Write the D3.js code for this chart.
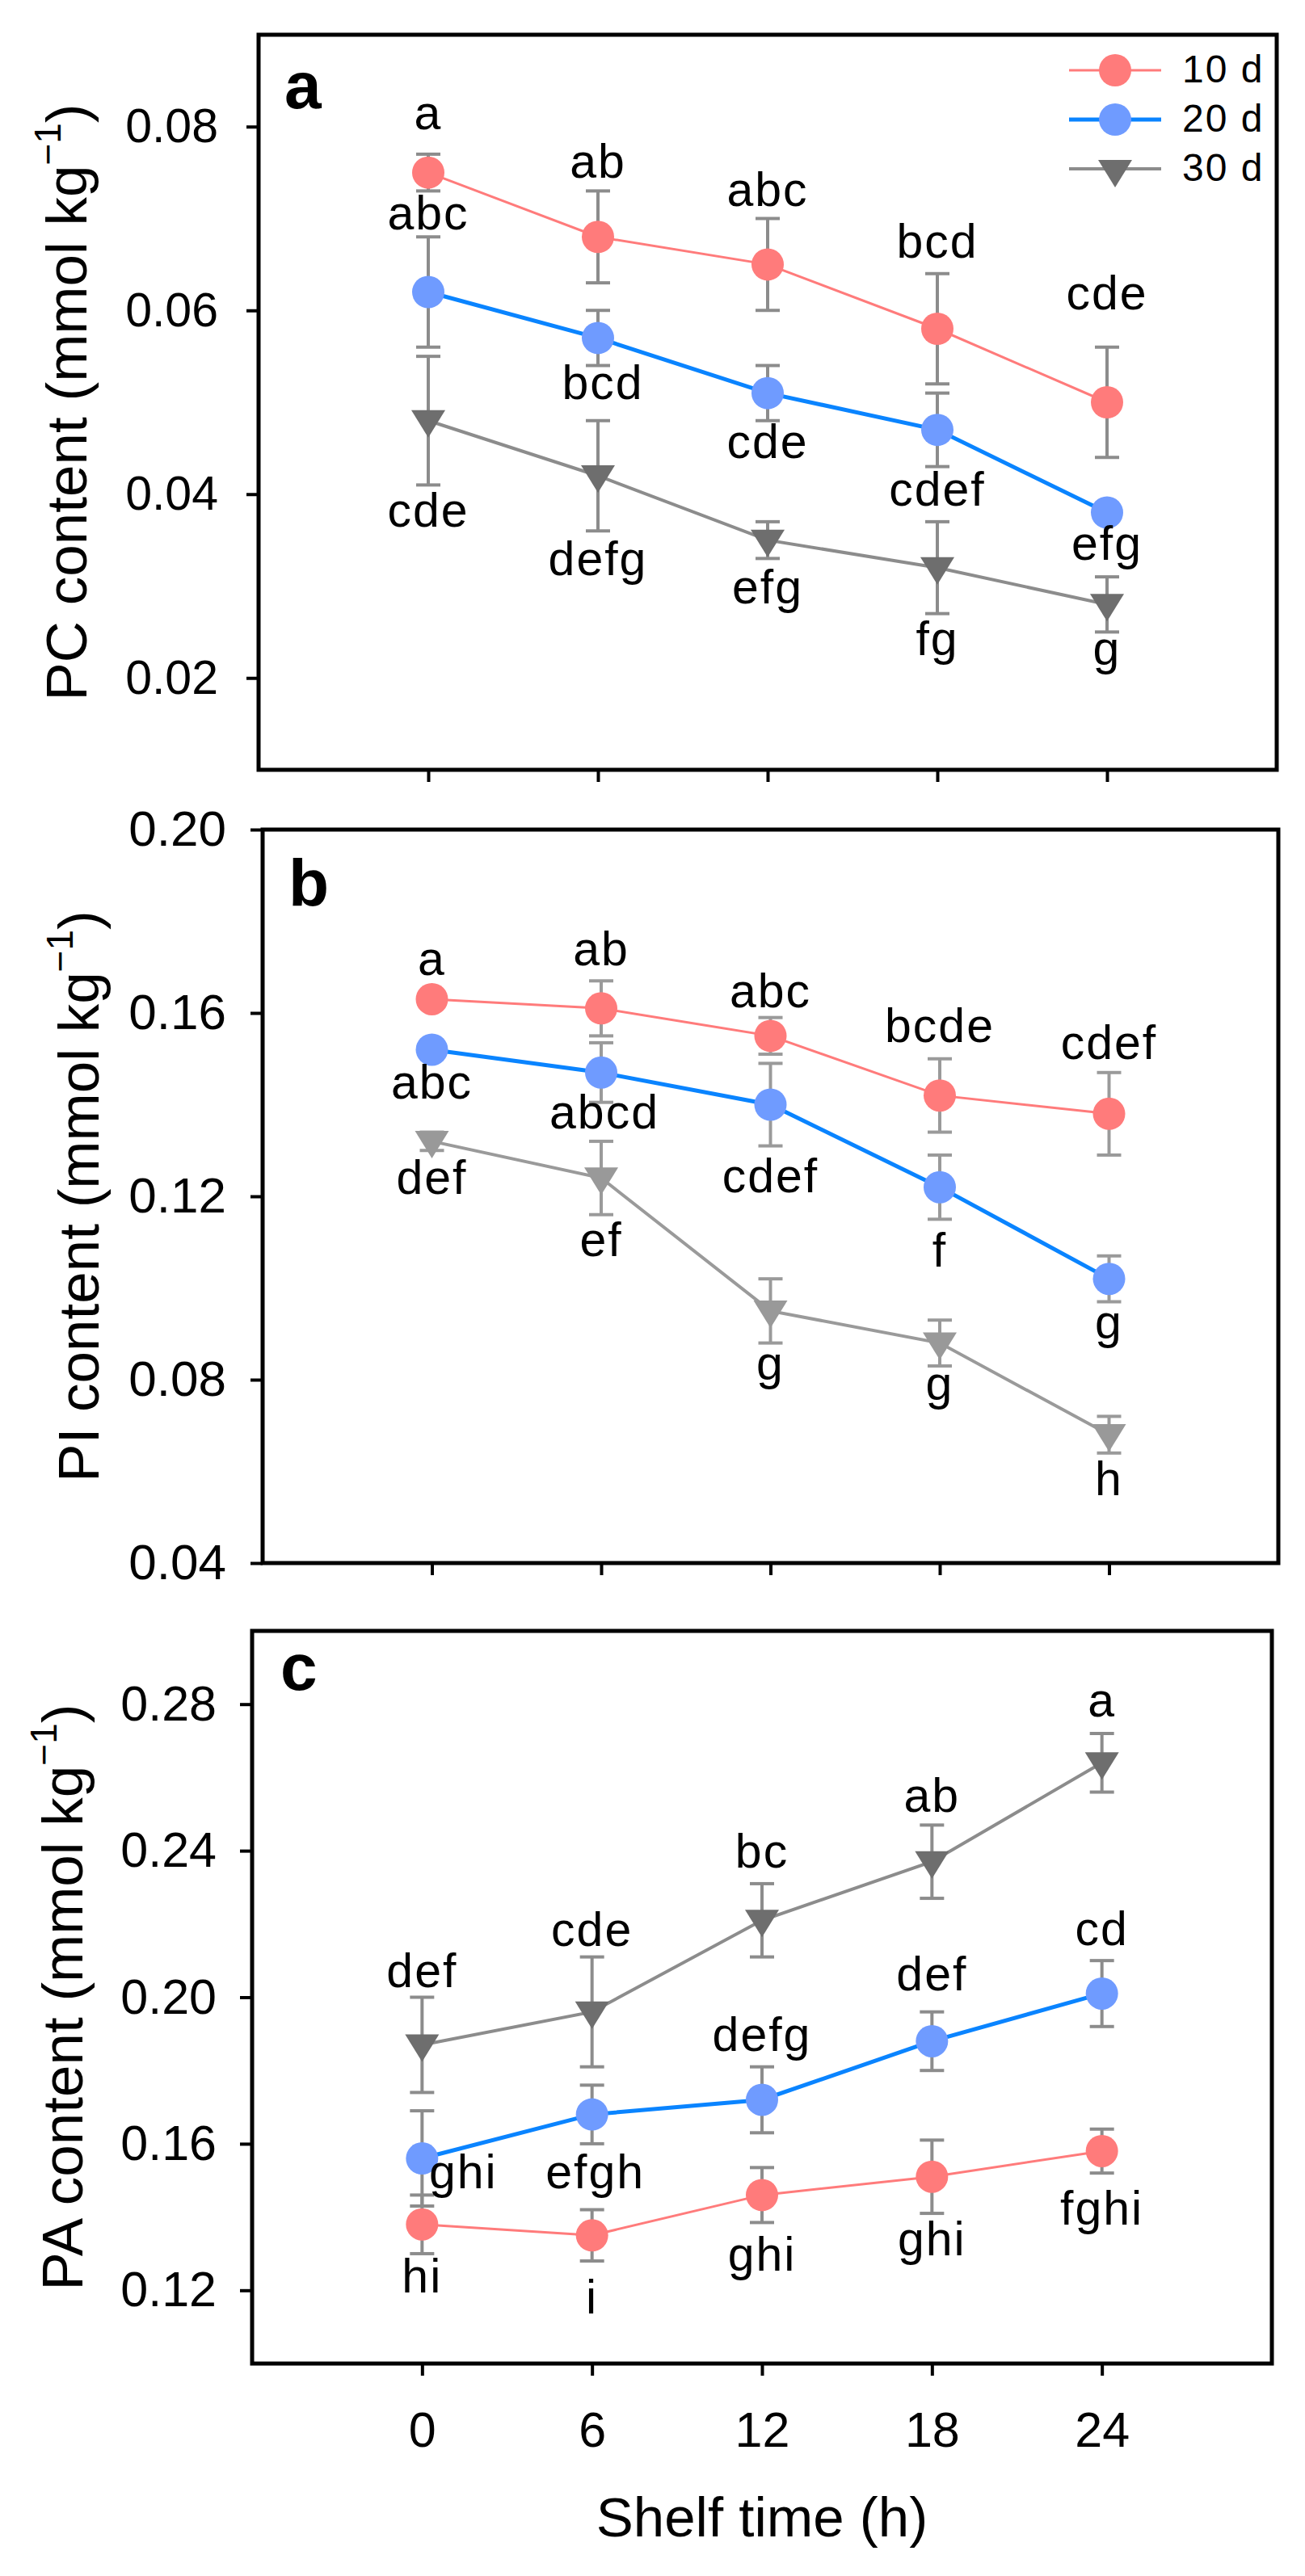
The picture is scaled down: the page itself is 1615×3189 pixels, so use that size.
<!DOCTYPE html>
<html>
<head>
<meta charset="utf-8">
<script src="https://cdn.jsdelivr.net/npm/d3@7"></script>
<style>
  body { margin: 0; background: #fff; }
  text { font-family: "Liberation Sans", Arial, sans-serif; }
</style>
</head>
<body>
<div id="chart"></div>
<script>
// shelf time (h) and storage groups
const hours = [0, 6, 12, 18, 24];
const groups = ["10 d", "20 d", "30 d"];

// y tick values per panel
const ticksPC = [0.02, 0.04, 0.06, 0.08];
const ticksPI = [0.04, 0.08, 0.12, 0.16, 0.20];
const ticksPA = [0.12, 0.16, 0.20, 0.24, 0.28];

// (a) PC content
const pc10 = [0.075, 0.068, 0.065, 0.058, 0.050];
const pc10Err = [0.002, 0.005, 0.005, 0.006, 0.006];
const pc20 = [0.062, 0.057, 0.051, 0.047, 0.038];
const pc20Err = [0.006, 0.003, 0.003, 0.004, 0.001];
const pc30 = [0.048, 0.042, 0.035, 0.032, 0.028];
const pc30Err = [0.007, 0.006, 0.002, 0.005, 0.003];
const pcLet10 = ["a", "ab", "abc", "bcd", "cde"];
const pcLet20 = ["abc", "bcd", "cde", "cdef", "efg"];
const pcLet30 = ["cde", "defg", "efg", "fg", "g"];

// (b) PI content
const pi10 = [0.163, 0.161, 0.155, 0.142, 0.138];
const pi10Err = [0.001, 0.006, 0.004, 0.008, 0.009];
const pi20 = [0.152, 0.147, 0.140, 0.122, 0.102];
const pi20Err = [0.001, 0.0065, 0.009, 0.007, 0.005];
const pi30 = [0.132, 0.124, 0.095, 0.088, 0.068];
const pi30Err = [0.002, 0.008, 0.007, 0.005, 0.004];
const piLet10 = ["a", "ab", "abc", "bcde", "cdef"];
const piLet20 = ["abc", "abcd", "cdef", "f", "g"];
const piLet30 = ["def", "ef", "g", "g", "h"];

// (c) PA content
const pa10 = [0.138, 0.135, 0.146, 0.151, 0.158];
const pa10Err = [0.008, 0.007, 0.0075, 0.010, 0.006];
const pa20 = [0.156, 0.168, 0.172, 0.188, 0.201];
const pa20Err = [0.013, 0.008, 0.009, 0.008, 0.009];
const pa30 = [0.187, 0.196, 0.221, 0.237, 0.264];
const pa30Err = [0.013, 0.015, 0.010, 0.010, 0.008];
const paLet10 = ["hi", "i", "ghi", "ghi", "fghi"];
const paLet20 = ["ghi", "efgh", "defg", "def", "cd"];
const paLet30 = ["def", "cde", "bc", "ab", "a"];

// letter placement, px offsets from the point (layout only)
const pcDy = [[-54, -73, -72, -88, -115], [-78, 76, 80, 94, 58], [131, 123, 78, 108, 75]];
const piDy = [[-30, -53, -35, -66, -68], [61, 69, 108, 98, 74], [65, 97, 85, 70, 75]];
const paDy = [[84, 97, 94, 97, 91], [37, 91, -60, -63, -60], [-71, -82, -65, -62, -57]];
const paDx = [[0, 0, 0, 0, 0], [51, 4, 0, 0, 0], [0, 0, 0, 0, 0]];
const zeroDx = [[0, 0, 0, 0, 0], [0, 6, 0, 0, 0], [0, 0, 0, 0, 0]];

const W = 1615, H = 3189;
const sans = '"Liberation Sans", Arial, sans-serif';
const serif = '"Liberation Serif", "Times New Roman", serif';

const panels = [
  {id: "a", top: 43, bottom: 953, left: 320, right: 1580, dom: [0.01, 0.09], ticks: ticksPC,
   tickFont: sans, tickSize: 59, tickPad: 35, title: "PC content", titleX: 107, letter: [352, 134],
   vals: [pc10, pc20, pc30], errs: [pc10Err, pc20Err, pc30Err], lets: [pcLet10, pcLet20, pcLet30],
   dy: pcDy, dx: zeroDx, tri: "#6e6e6e", gray: "#8c8c8c", legend: true, showX: false},
  {id: "b", top: 1027, bottom: 1935, left: 325, right: 1582, dom: [0.04, 0.20], ticks: ticksPI,
   tickFont: serif, tickSize: 62, tickPad: 30, title: "PI content", titleX: 122, letter: [357, 1121],
   vals: [pi10, pi20, pi30], errs: [pi10Err, pi20Err, pi30Err], lets: [piLet10, piLet20, piLet30],
   dy: piDy, dx: [[0,0,0,0,0],[0,4,0,0,0],[0,0,0,0,0]], tri: "#999999", gray: "#9a9a9a", legend: false, showX: false},
  {id: "c", top: 2019, bottom: 2926, left: 312, right: 1574, dom: [0.10, 0.30], ticks: ticksPA,
   tickFont: sans, tickSize: 61, tickPad: 29, title: "PA content", titleX: 102, letter: [347, 2092],
   vals: [pa10, pa20, pa30], errs: [pa10Err, pa20Err, pa30Err], lets: [paLet10, paLet20, paLet30],
   dy: paDy, dx: paDx, tri: "#6e6e6e", gray: "#8c8c8c", legend: false, showX: true}
];

const markerFill = ["#ff7b7b", "#6f9bff", null];
const lineColor = ["#ff7b7b", "#0a84ff", null];
const lineWidth = [3, 5, 4];

const svg = d3.select("#chart").append("svg")
  .attr("width", W).attr("height", H).attr("viewBox", `0 0 ${W} ${H}`);

const triPath = (cx, cy) => `M${cx - 21},${cy - 13}L${cx + 21},${cy - 13}L${cx},${cy + 21}Z`;

panels.forEach(p => {
  const x = d3.scaleLinear().domain([-6, 30]).range([p.left, p.right]);
  const y = d3.scaleLinear().domain(p.dom).range([p.bottom, p.top]);
  const g = svg.append("g");

  // axes
  const ya = g.append("g").attr("transform", `translate(${p.left},0)`)
    .call(d3.axisLeft(y).tickValues(p.ticks).tickSize(15).tickPadding(p.tickPad).tickFormat(d3.format(".2f")));
  ya.select(".domain").remove();
  ya.selectAll(".tick line").attr("stroke", "#000").attr("stroke-width", 4);
  ya.selectAll(".tick text").attr("font-family", p.tickFont).attr("font-size", p.tickSize).attr("fill", "#000");

  const xa = g.append("g").attr("transform", `translate(0,${p.bottom})`)
    .call(d3.axisBottom(x).tickValues(hours).tickSize(15).tickPadding(45)
      .tickFormat(p.showX ? d3.format("d") : () => ""));
  xa.select(".domain").remove();
  xa.selectAll(".tick line").attr("stroke", "#000").attr("stroke-width", 4);
  xa.selectAll(".tick text").attr("font-family", sans).attr("font-size", 61).attr("fill", "#000");

  // frame
  g.append("rect").attr("x", p.left).attr("y", p.top)
    .attr("width", p.right - p.left).attr("height", p.bottom - p.top)
    .attr("fill", "none").attr("stroke", "#000").attr("stroke-width", 5);

  // y title with superscript
  const t = g.append("text")
    .attr("transform", `translate(${p.titleX},${(p.top + p.bottom) / 2}) rotate(-90)`)
    .attr("text-anchor", "middle").attr("font-size", 71).attr("fill", "#000");
  t.append("tspan").text(p.title + " (mmol kg");
  t.append("tspan").attr("font-size", 46).attr("dy", -32).text("\u22121");
  t.append("tspan").attr("dy", 32).text(")");

  // panel letter
  g.append("text").attr("x", p.letter[0]).attr("y", p.letter[1])
    .attr("font-size", 82).attr("font-weight", "bold").text(p.id);

  const line = d3.line().x((d, i) => x(hours[i])).y(d => y(d));

  // lines
  p.vals.forEach((vals, s) => {
    g.append("path").datum(vals).attr("d", line).attr("fill", "none")
      .attr("stroke", lineColor[s] || p.gray).attr("stroke-width", lineWidth[s]);
  });

  // error bars
  p.vals.forEach((vals, s) => {
    const eb = g.append("g").attr("stroke", p.gray).attr("stroke-width", 4);
    vals.forEach((v, i) => {
      const e = p.errs[s][i], cx = x(hours[i]);
      const y1 = y(v + e), y2 = y(v - e);
      eb.append("line").attr("x1", cx).attr("x2", cx).attr("y1", y1).attr("y2", y2);
      eb.append("line").attr("x1", cx - 15).attr("x2", cx + 15).attr("y1", y1).attr("y2", y1);
      eb.append("line").attr("x1", cx - 15).attr("x2", cx + 15).attr("y1", y2).attr("y2", y2);
    });
  });

  // markers
  p.vals.forEach((vals, s) => {
    if (s < 2) {
      g.selectAll(null).data(vals).join("circle")
        .attr("cx", (d, i) => x(hours[i])).attr("cy", d => y(d)).attr("r", 20)
        .attr("fill", markerFill[s]);
    } else {
      g.selectAll(null).data(vals).join("path")
        .attr("d", (d, i) => triPath(x(hours[i]), y(d))).attr("fill", p.tri);
    }
  });

  // significance letters
  p.vals.forEach((vals, s) => {
    g.selectAll(null).data(vals).join("text")
      .attr("x", (d, i) => x(hours[i]) + p.dx[s][i])
      .attr("y", (d, i) => y(d) + p.dy[s][i])
      .attr("text-anchor", "middle").attr("font-size", 59).attr("letter-spacing", 2)
      .attr("fill", "#000").text((d, i) => p.lets[s][i]);
  });

  // legend
  if (p.legend) {
    groups.forEach((name, s) => {
      const ly = 87 + s * 61;
      const lg = g.append("g");
      lg.append("line").attr("x1", 1323).attr("x2", 1437).attr("y1", ly).attr("y2", ly)
        .attr("stroke", lineColor[s] || p.gray).attr("stroke-width", lineWidth[s]);
      if (s < 2) lg.append("circle").attr("cx", 1380).attr("cy", ly).attr("r", 20).attr("fill", markerFill[s]);
      else lg.append("path").attr("d", triPath(1380, ly + 2)).attr("fill", p.tri);
      lg.append("text").attr("x", 1463).attr("y", ly + 15).attr("font-size", 48)
        .attr("letter-spacing", 2).text(name);
    });
  }
});

// x axis title
svg.append("text").attr("x", 943).attr("y", 3140).attr("text-anchor", "middle")
  .attr("font-size", 69).attr("fill", "#000").text("Shelf time (h)");
</script>
</body>
</html>
